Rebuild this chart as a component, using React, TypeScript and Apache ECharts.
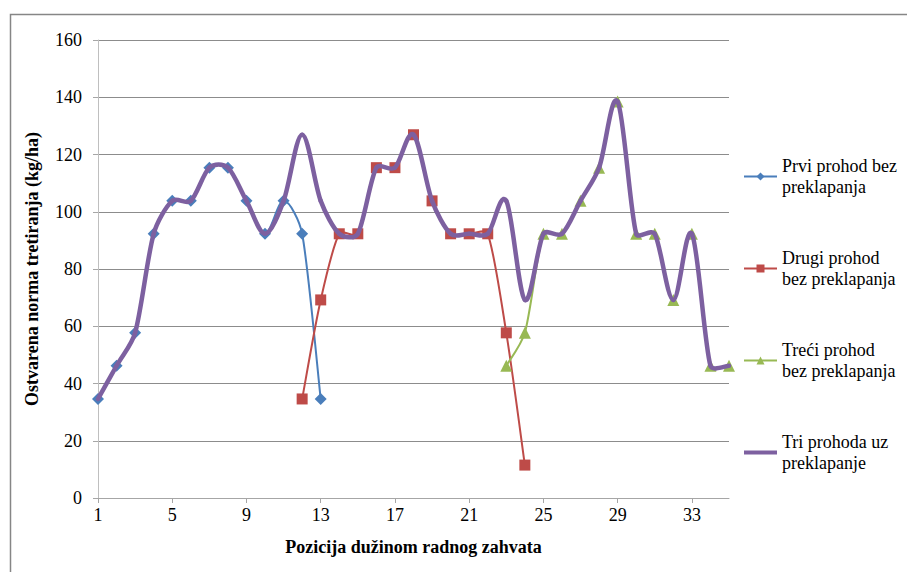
import React, { useEffect, useRef } from "react";
import * as echarts from "echarts";

const categories = Array.from({ length: 35 }, (_, i) => String(i + 1));

const prviValues: (number | null)[] = [
  34.6, 46.2, 57.7, 92.3, 103.8, 103.8, 115.4, 115.4, 103.8, 92.3, 103.8, 92.3, 34.6,
  null, null, null, null, null, null, null, null, null, null, null, null, null, null, null, null, null, null, null, null, null, null,
];

const drugiValues: (number | null)[] = [
  null, null, null, null, null, null, null, null, null, null, null,
  34.6, 69.2, 92.3, 92.3, 115.4, 115.4, 126.9, 103.8, 92.3, 92.3, 92.3, 57.7, 11.5,
  null, null, null, null, null, null, null, null, null, null, null,
];

const treciValues: (number | null)[] = [
  null, null, null, null, null, null, null, null, null, null, null, null, null, null, null, null, null, null, null, null, null, null,
  46.2, 57.7, 92.3, 92.3, 103.8, 115.4, 138.5, 92.3, 92.3, 69.2, 92.3, 46.2, 46.2,
];

const triValues: number[] = [
  34.6, 46.2, 57.7, 92.3, 103.8, 103.8, 115.4, 115.4, 103.8, 92.3, 103.8, 126.9, 103.8,
  92.3, 92.3, 115.4, 115.4, 126.9, 103.8, 92.3, 92.3, 92.3, 103.8, 69.2,
  92.3, 92.3, 103.8, 115.4, 138.5, 92.3, 92.3, 69.2, 92.3, 46.2, 46.2,
];

const seriesNames = [
  "Prvi prohod bez preklapanja",
  "Drugi prohod bez preklapanja",
  "Treći prohod bez preklapanja",
  "Tri prohoda uz preklapanje",
];
const legendLabels: Record<string, string> = {
  "Prvi prohod bez preklapanja": "Prvi prohod bez\npreklapanja",
  "Drugi prohod bez preklapanja": "Drugi prohod\nbez preklapanja",
  "Treći prohod bez preklapanja": "Treći prohod\nbez preklapanja",
  "Tri prohoda uz preklapanje": "Tri prohoda uz\npreklapanje",
};

const colors = ["#4A7EBB", "#BE4B48", "#98B954", "#7D60A0"];
const widths = [2, 2, 2, 4.5];

const FONT = "'Times New Roman', 'Liberation Serif', serif";

// Excel-like smoothed curve (Bezier, tension 1/6, arms limited by segment length) drawn through the axes' scales
function curveSeries(values: (number | null)[], color: string, width: number, z: number) {
  const data = values
    .map((v, i) => (v == null ? null : [i, v]))
    .filter((d) => d != null) as number[][];
  return {
    type: "custom",
    silent: true,
    z,
    data,
    encode: { x: 0, y: 1 },
    renderItem: (params: any, api: any) => {
      const i = api.value(0) as number;
      const v = values;
      if (v[i] == null || i + 1 >= v.length || v[i + 1] == null) return null;
      const p = (k: number) => api.coord([k, v[k] as number]);
      const dist = (a: number[], b: number[]) => Math.hypot(a[0] - b[0], a[1] - b[1]);
      const p0 = p(i);
      const p1 = p(i + 1);
      const pm = i - 1 >= 0 && v[i - 1] != null ? p(i - 1) : p0;
      const pn = i + 2 < v.length && v[i + 2] != null ? p(i + 2) : p1;
      const t = 1 / 6;
      const seg = dist(p0, p1);
      const span0 = dist(pm, p1) || 1;
      const span1 = dist(p0, pn) || 1;
      const f0 = Math.min(1, (2 * seg) / span0);
      const f1 = Math.min(1, (2 * seg) / span1);
      return {
        type: "bezierCurve",
        shape: {
          x1: p0[0],
          y1: p0[1],
          x2: p1[0],
          y2: p1[1],
          cpx1: p0[0] + (p1[0] - pm[0]) * t * f0,
          cpy1: p0[1] + (p1[1] - pm[1]) * t * f0,
          cpx2: p1[0] - (pn[0] - p0[0]) * t * f1,
          cpy2: p1[1] - (pn[1] - p0[1]) * t * f1,
        },
        style: { stroke: color, lineWidth: width, fill: "none", lineCap: "round" },
      };
    },
  };
}

export default function App() {
  const ref = useRef<HTMLDivElement>(null);
  useEffect(() => {
    document.body.style.margin = "0";
    const chart = echarts.init(ref.current!, null, { renderer: "svg" });
    const allValues = [prviValues, drugiValues, treciValues, triValues];
    const symbols = ["diamond", "rect", "triangle", "none"];
    const symbolSizes = [12, 11, 12, 0];
    const markerSeries = allValues.map((vals, k) => ({
      name: seriesNames[k],
      type: "line",
      data: vals,
      symbol: symbols[k],
      symbolSize: symbolSizes[k],
      itemStyle: { color: colors[k] },
      lineStyle: { color: colors[k], width: 0, opacity: 0 },
      z: 3,
    }));
    const curves = allValues.map((vals, k) => curveSeries(vals, colors[k], widths[k], k === 3 ? 4 : 2));
    chart.setOption({
      animation: false,
      backgroundColor: "#ffffff",
      textStyle: { fontFamily: FONT },
      graphic: [
        {
          type: "rect",
          shape: { x: 10.5, y: 14.5, width: 1000, height: 1000 },
          style: { fill: "none", stroke: "#868686", lineWidth: 1.5 },
          silent: true,
        },
      ],
      grid: { left: 98, right: 178, top: 40, bottom: 74, containLabel: false },
      legend: {
        orient: "vertical",
        left: 737,
        top: 140,
        itemWidth: 33,
        itemHeight: 10,
        itemGap: 29,
        data: seriesNames.map((n, k) => ({
          name: n,
          lineStyle: { color: colors[k], width: k === 3 ? 4 : 2, opacity: 1 },
          itemStyle: k === 3 ? { opacity: 0 } : { color: colors[k] },
        })),
        formatter: (n: string) => legendLabels[n] ?? n,
        textStyle: {
          fontFamily: FONT,
          fontSize: 18,
          color: "#000",
          lineHeight: 21,
          padding: [21, 0, 0, 0],
        },
      },
      xAxis: {
        type: "category",
        data: categories,
        boundaryGap: false,
        name: "Pozicija dužinom radnog zahvata",
        nameLocation: "middle",
        nameGap: 40,
        nameTextStyle: { fontFamily: FONT, fontSize: 18, fontWeight: "bold", color: "#000" },
        axisLine: { lineStyle: { color: "#A6A6A6", width: 1 } },
        axisTick: { show: true, interval: 3, length: 5, lineStyle: { color: "#A6A6A6" } },
        axisLabel: { interval: 3, fontFamily: FONT, fontSize: 18, color: "#000", margin: 8 },
        splitLine: { show: false },
      },
      yAxis: {
        type: "value",
        min: 0,
        max: 160,
        interval: 20,
        name: "Ostvarena norma tretiranja (kg/ha)",
        nameLocation: "middle",
        nameGap: 57,
        nameTextStyle: { fontFamily: FONT, fontSize: 18, fontWeight: "bold", color: "#000" },
        axisLine: { show: true, lineStyle: { color: "#BFBFBF", width: 1 } },
        axisTick: { show: true, length: 5, lineStyle: { color: "#A6A6A6" } },
        axisLabel: { fontFamily: FONT, fontSize: 18, color: "#000", margin: 16 },
        splitLine: { show: true, lineStyle: { color: "#8C8C8C", width: 1 } },
      },
      series: [...curves, ...markerSeries],
    });
    return () => chart.dispose();
  }, []);
  return <div ref={ref} style={{ width: 907, height: 572 }} />;
}
